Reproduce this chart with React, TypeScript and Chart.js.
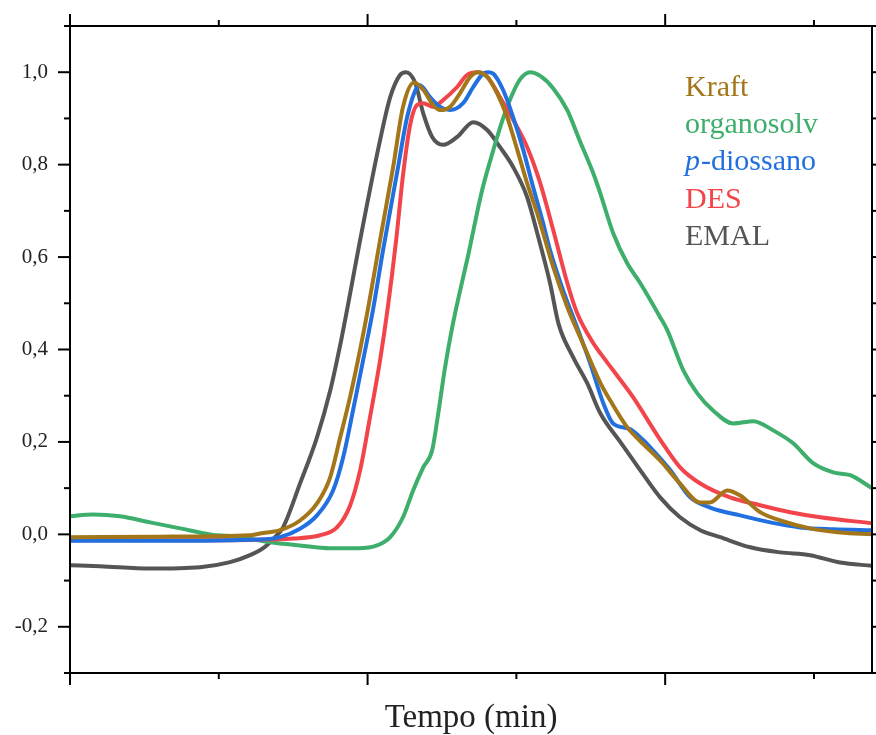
import React, { useEffect, useRef } from 'react';
import { Chart, registerables } from 'chart.js';

Chart.register(...registerables);

// ---- data (x: tempo in min, arbitrary origin; y: normalised signal) ----
const kraftX = [0, 3, 6.05, 6.39, 7.06, 7.73, 8.3, 8.74, 9.08, 9.41, 9.75, 10.02, 10.42, 10.86, 11.19, 11.56, 11.87, 12.2, 12.44, 12.77, 13.11, 13.45, 13.71, 14.02, 14.35, 14.69, 15.03, 15.36, 15.7, 16.24, 16.71, 17.14, 17.58, 17.82, 18.15, 18.72, 19.16, 19.83, 20.5, 21.18, 21.51, 22.08, 22.52, 23.19, 23.87, 24.87, 25.88, 26.95];
const kraftY = [-0.006, -0.005, -0.002, 0.002, 0.009, 0.03, 0.067, 0.123, 0.21, 0.297, 0.4, 0.49, 0.637, 0.795, 0.925, 0.978, 0.962, 0.929, 0.918, 0.925, 0.955, 0.99, 1.0, 0.99, 0.955, 0.903, 0.832, 0.76, 0.695, 0.578, 0.492, 0.427, 0.362, 0.328, 0.29, 0.232, 0.202, 0.16, 0.11, 0.069, 0.069, 0.095, 0.084, 0.048, 0.03, 0.013, 0.004, 0.0];

const organosolvX = [0, 0.77, 1.68, 2.69, 3.7, 4.71, 5.71, 6.72, 7.73, 8.74, 9.68, 10.32, 10.76, 11.19, 11.53, 11.87, 12.17, 12.37, 12.6, 12.85, 13.4, 13.85, 14.15, 14.5, 14.82, 15.13, 15.46, 15.8, 16.24, 16.71, 17.14, 17.58, 17.82, 18.25, 18.72, 19.16, 19.83, 20.07, 20.61, 21.08, 21.61, 22.29, 22.96, 23.63, 24.3, 24.97, 25.65, 26.22, 26.95];
const organosolvY = [0.039, 0.043, 0.039, 0.026, 0.013, 0.0, -0.006, -0.017, -0.024, -0.03, -0.03, -0.024, -0.006, 0.037, 0.095, 0.145, 0.182, 0.26, 0.36, 0.45, 0.61, 0.745, 0.815, 0.89, 0.946, 0.985, 1.0, 0.992, 0.965, 0.918, 0.85, 0.782, 0.738, 0.652, 0.587, 0.544, 0.47, 0.442, 0.355, 0.305, 0.268, 0.24, 0.245, 0.225, 0.197, 0.154, 0.134, 0.128, 0.1];

const diossanoX = [0, 3, 6.39, 7.06, 7.73, 8.3, 8.84, 9.18, 9.51, 9.85, 10.18, 10.52, 10.99, 11.33, 11.66, 11.76, 12.1, 12.44, 12.77, 13.21, 13.55, 13.88, 14.05, 14.22, 14.55, 14.89, 15.23, 15.56, 15.9, 16.13, 16.57, 17.04, 17.48, 17.92, 18.25, 18.82, 19.26, 19.5, 20.17, 20.84, 21.51, 22.52, 23.53, 24.54, 25.65, 26.95];
const diossanoY = [-0.014, -0.014, -0.011, -0.006, 0.012, 0.041, 0.095, 0.167, 0.268, 0.377, 0.485, 0.615, 0.782, 0.903, 0.968, 0.972, 0.946, 0.925, 0.918, 0.933, 0.968, 0.997, 1.0, 0.997, 0.962, 0.903, 0.832, 0.752, 0.673, 0.615, 0.528, 0.448, 0.37, 0.284, 0.24, 0.228, 0.204, 0.188, 0.139, 0.08, 0.058, 0.041, 0.026, 0.015, 0.011, 0.009];

const desX = [0, 3, 6.05, 7.5, 8.4, 8.97, 9.41, 9.75, 10.08, 10.42, 10.69, 10.96, 11.19, 11.43, 11.66, 11.87, 12.2, 12.54, 13.01, 13.34, 13.68, 14.02, 14.45, 14.89, 15.36, 15.8, 16.24, 16.71, 17.04, 17.58, 17.82, 18.25, 18.92, 19.83, 20.5, 21.18, 22.18, 23.19, 24.2, 25.21, 26.95];
const desY = [-0.013, -0.013, -0.012, -0.009, -0.002, 0.015, 0.062, 0.139, 0.253, 0.377, 0.496, 0.637, 0.777, 0.886, 0.929, 0.933, 0.925, 0.94, 0.968, 0.994, 1.0, 0.99, 0.946, 0.897, 0.838, 0.76, 0.658, 0.544, 0.479, 0.414, 0.392, 0.355, 0.297, 0.205, 0.145, 0.11, 0.08, 0.063, 0.048, 0.037, 0.024];

const emalX = [0, 1.01, 2.69, 4.37, 5.38, 6.05, 6.55, 6.89, 7.16, 7.73, 8.3, 8.74, 9.08, 9.41, 9.75, 10.42, 10.76, 11.09, 11.29, 11.6, 11.87, 12.17, 12.54, 13.01, 13.55, 14.02, 14.45, 14.89, 15.36, 15.7, 16.13, 16.42, 16.91, 17.38, 17.82, 18.49, 19.16, 19.83, 20.5, 21.18, 21.85, 22.86, 23.87, 24.87, 25.88, 26.95];
const emalY = [-0.067, -0.069, -0.074, -0.071, -0.06, -0.045, -0.027, -0.006, 0.015, 0.11, 0.21, 0.31, 0.41, 0.52, 0.637, 0.853, 0.946, 0.994, 1.0, 0.977, 0.911, 0.86, 0.843, 0.86, 0.892, 0.875, 0.838, 0.795, 0.73, 0.652, 0.544, 0.455, 0.383, 0.327, 0.262, 0.2, 0.139, 0.08, 0.037, 0.009, -0.006, -0.028, -0.039, -0.045, -0.061, -0.068];

const seriesLabels = ['Kraft', 'organosolv', 'p-diossano', 'DES', 'EMAL'];
const seriesColors = ['#A3761A', '#3DAE6B', '#2270E0', '#F2454B', '#555555'];
const seriesXs = [kraftX, organosolvX, diossanoX, desX, emalX];
const seriesYs = [kraftY, organosolvY, diossanoY, desY, emalY];
// drawing order: first element is painted on top
const drawOrder = [0, 2, 3, 1, 4];

const yLabelTicks = [-0.2, 0, 0.2, 0.4, 0.6, 0.8, 1.0];
const yMinorTicks = [-0.3, -0.1, 0.1, 0.3, 0.5, 0.7, 0.9, 1.1];
const xMajorTicks = [0, 10, 20];
const xMinorTicks = [5, 15, 25];
const xTitle = 'Tempo (min)';

const SERIF = "'Liberation Serif', 'Times New Roman', serif";

const framePlugin = {
  id: 'frameTicks',
  afterDatasetsDraw(chart: any) {
    const { ctx, chartArea, scales } = chart;
    const { left, right, top, bottom } = chartArea;
    ctx.save();
    ctx.strokeStyle = '#000';
    ctx.lineWidth = 2;
    ctx.lineCap = 'butt';
    ctx.beginPath();
    ctx.rect(left, top, right - left, bottom - top);
    ctx.stroke();
    const seg = (x1: number, y1: number, x2: number, y2: number) => {
      ctx.beginPath();
      ctx.moveTo(x1, y1);
      ctx.lineTo(x2, y2);
      ctx.stroke();
    };
    const xs = scales.x;
    const ys = scales.y;
    xMajorTicks.forEach((v) => {
      const p = xs.getPixelForValue(v);
      seg(p, bottom, p, bottom + 12);
      seg(p, top, p, top - 12);
    });
    xMinorTicks.forEach((v) => {
      const p = xs.getPixelForValue(v);
      seg(p, bottom, p, bottom + 6);
      seg(p, top, p, top - 6);
    });
    yLabelTicks.forEach((v) => {
      const p = ys.getPixelForValue(v);
      seg(left, p, left - 12, p);
      seg(right, p, right + 12, p);
    });
    yMinorTicks.forEach((v) => {
      const p = ys.getPixelForValue(v);
      seg(left, p, left - 6, p);
      seg(right, p, right + 6, p);
    });

    // legend (coloured text)
    ctx.textBaseline = 'alphabetic';
    ctx.textAlign = 'left';
    const lx = 685;
    let ly = 96;
    seriesLabels.forEach((lab, i) => {
      ctx.fillStyle = seriesColors[i];
      if (lab.startsWith('p-')) {
        ctx.font = `italic 30px ${SERIF}`;
        ctx.fillText('p', lx, ly);
        const w = ctx.measureText('p').width;
        ctx.font = `30px ${SERIF}`;
        ctx.fillText(lab.slice(1), lx + w + 1, ly);
      } else {
        ctx.font = `30px ${SERIF}`;
        ctx.fillText(lab, lx, ly);
      }
      ly += 37.2;
    });
    ctx.restore();
  },
};

export default function App() {
  const ref = useRef<HTMLCanvasElement | null>(null);
  useEffect(() => {
    if (!ref.current) return;
    const datasets = drawOrder.map((i) => ({
      label: seriesLabels[i],
      data: seriesXs[i].map((x, k) => ({ x, y: seriesYs[i][k] })),
      borderColor: seriesColors[i],
      backgroundColor: seriesColors[i],
      borderWidth: 4,
      pointRadius: 0,
      fill: false,
      cubicInterpolationMode: 'monotone' as const,
    }));
    const chart = new Chart(ref.current, {
      type: 'line',
      data: { datasets },
      options: {
        responsive: false,
        animation: false,
        layout: { padding: { left: 0, top: 26, right: 4, bottom: 0 } },
        plugins: { legend: { display: false }, tooltip: { enabled: false } },
        scales: {
          x: {
            type: 'linear',
            min: 0,
            max: 26.95,
            grid: { display: false, drawTicks: false },
            border: { display: false },
            ticks: { display: false },
            title: {
              display: true,
              text: xTitle,
              color: '#222',
              font: { family: SERIF, size: 33, lineHeight: 1 },
              padding: { top: 0, bottom: 0 },
            },
            afterFit: (s: any) => {
              s.height = 62;
              s.paddingLeft = 0;
              s.paddingRight = 0;
            },
          },
          y: {
            type: 'linear',
            min: -0.3,
            max: 1.1,
            grid: { display: false, drawTicks: false },
            border: { display: false },
            ticks: {
              padding: 22,
              color: '#222',
              font: { family: SERIF, size: 21 },
              callback: (v: any) => Number(v).toFixed(1).replace('.', ','),
            },
            afterBuildTicks: (s: any) => {
              s.ticks = yLabelTicks.map((v) => ({ value: v }));
            },
            afterFit: (s: any) => {
              s.width = 70;
              s.paddingTop = 0;
              s.paddingBottom = 0;
            },
          },
        },
      },
      plugins: [framePlugin],
    });
    return () => chart.destroy();
  }, []);
  return (
    <div style={{ position: 'absolute', left: 0, top: 0, width: 876, height: 735, background: '#fff' }}>
      <canvas ref={ref} width={876} height={735} style={{ display: 'block' }} />
    </div>
  );
}
